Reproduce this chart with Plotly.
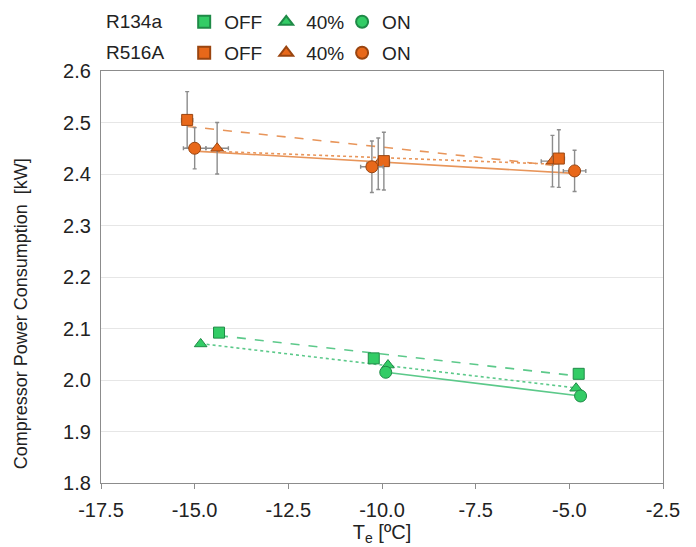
import numpy as np
import plotly.graph_objects as go

# ---- data ----
# R134a (green), no visible error bars
r134a_off_x = [-14.35, -10.22, -4.75]
r134a_off_y = [2.092, 2.042, 2.012]
r134a_40_x = [-14.84, -9.84, -4.82]
r134a_40_y = [2.070, 2.029, 1.984]
r134a_on_x = [-9.90, -4.70]
r134a_on_y = [2.015, 1.969]

# R516A (orange) with error bars
r516a_off_x = [-15.20, -9.95, -5.28]
r516a_off_y = [2.505, 2.425, 2.430]
r516a_off_ey = [0.055, 0.056, 0.056]
r516a_off_ex = [0.15, 0.15, 0.15]
r516a_40_x = [-14.40, -10.10, -5.45]
r516a_40_y = [2.450, 2.420, 2.425]
r516a_40_ey = [0.050, 0.050, 0.050]
r516a_40_ex = [0.30, 0.30, 0.30]
r516a_on_x = [-15.00, -10.27, -4.86]
r516a_on_y = [2.450, 2.414, 2.406]
r516a_on_ey = [0.040, 0.050, 0.040]
r516a_on_ex = [0.30, 0.30, 0.30]

x_ticks = [-17.5, -15.0, -12.5, -10.0, -7.5, -5.0, -2.5]
y_ticks = [1.8, 1.9, 2.0, 2.1, 2.2, 2.3, 2.4, 2.5, 2.6]

GREEN = "#33cc66"
GREEN_EDGE = "#1f8a47"
GREEN_LINE = "#5cc98a"
ORANGE = "#e8681a"
ORANGE_EDGE = "#9a4510"
ORANGE_LINE = "#e8955a"
ERR = "#8c8c8c"

fig = go.Figure()

def trend(xs, ys, color, dash, width=1.6):
    p = np.polyfit(xs, ys, 1)
    xx = np.array([min(xs), max(xs)])
    fig.add_trace(go.Scatter(x=xx, y=np.polyval(p, xx), mode="lines",
                             line=dict(color=color, dash=dash, width=width),
                             showlegend=False, hoverinfo="skip"))

# trendlines
trend(r134a_off_x, r134a_off_y, GREEN_LINE, "dash")
trend(r134a_40_x, r134a_40_y, GREEN_LINE, "dot")
trend(r134a_on_x, r134a_on_y, GREEN_LINE, "solid")
trend(r516a_off_x, r516a_off_y, ORANGE_LINE, "dash")
trend(r516a_40_x, r516a_40_y, ORANGE_LINE, "dot")
trend(r516a_on_x, r516a_on_y, ORANGE_LINE, "solid")

def pts(xs, ys, sym, fill, edge, name, legend, size, ey=None, ex=None):
    kw = {}
    if ey is not None:
        kw["error_y"] = dict(type="data", array=ey, color=ERR, thickness=1.4, width=2)
    if ex is not None:
        kw["error_x"] = dict(type="data", array=ex, color=ERR, thickness=1.4, width=2)
    fig.add_trace(go.Scatter(x=xs, y=ys, mode="markers", name=name, legend=legend,
                             marker=dict(symbol=sym, size=size, color=fill,
                                         line=dict(color=edge, width=1)),
                             **kw))

pts(r134a_off_x, r134a_off_y, "square", GREEN, GREEN_EDGE, "OFF", "legend", 11)
pts(r134a_40_x, r134a_40_y, "triangle-up", GREEN, GREEN_EDGE, "40%", "legend2", 11)
pts(r134a_on_x, r134a_on_y, "circle", GREEN, GREEN_EDGE, "ON", "legend3", 12)
pts(r516a_40_x, r516a_40_y, "triangle-up", ORANGE, ORANGE_EDGE, "40%", "legend5", 11,
    r516a_40_ey, r516a_40_ex)
pts(r516a_off_x, r516a_off_y, "square", ORANGE, ORANGE_EDGE, "OFF", "legend4", 11,
    r516a_off_ey, r516a_off_ex)
pts(r516a_on_x, r516a_on_y, "circle", ORANGE, ORANGE_EDGE, "ON", "legend6", 12,
    r516a_on_ey, r516a_on_ex)

FONT = "Liberation Sans, Arial, sans-serif"
legend_common = dict(orientation="h", xanchor="left", yanchor="middle",
                     font=dict(family=FONT, size=19, color="#222"),
                     itemsizing="constant", itemwidth=30, bgcolor="rgba(0,0,0,0)")

col_x = [0.148, 0.294, 0.429]
row_y = [1.119, 1.044]

legends = {}
names = ["legend", "legend2", "legend3", "legend4", "legend5", "legend6"]
for i, nm in enumerate(names):
    legends[nm] = dict(x=col_x[i % 3], y=row_y[i // 3], **legend_common)

fig.update_layout(
    width=696, height=547,
    margin=dict(l=93, r=41, t=63, b=72, autoexpand=False),
    paper_bgcolor="white", plot_bgcolor="white",
    font=dict(family=FONT, size=20, color="#222"),
    **legends,
    xaxis=dict(range=[-17.5, -2.5], tickvals=x_ticks,
               ticktext=[f"{v:.1f}" for v in x_ticks],
               showgrid=False, zeroline=False,
               showline=True, linecolor="#8c8c8c", linewidth=1.2, mirror=True,
               ticks="outside", ticklen=5, tickcolor="#8c8c8c",
               tickfont=dict(size=20), ticklabelstandoff=4,
               title=dict(text="T<sub>e</sub> [ºC]", font=dict(size=20), standoff=4)),
    yaxis=dict(range=[1.8, 2.6], tickvals=y_ticks,
               ticktext=[f"{v:.1f}" for v in y_ticks],
               showgrid=True, gridcolor="#e6e6e6", gridwidth=1, zeroline=False,
               showline=True, linecolor="#8c8c8c", linewidth=1.2, mirror=True,
               tickfont=dict(size=20), ticklabelstandoff=5),
    annotations=[
        dict(text="R134a", xref="paper", yref="paper", x=0.006, y=row_y[0],
             xanchor="left", yanchor="middle", showarrow=False,
             font=dict(size=19, color="#222")),
        dict(text="R516A", xref="paper", yref="paper", x=0.006, y=row_y[1],
             xanchor="left", yanchor="middle", showarrow=False,
             font=dict(size=19, color="#222")),
        dict(text="Compressor Power Consumption  [kW]", xref="paper", yref="paper",
             x=-0.142, y=0.41, textangle=-90, xanchor="center", yanchor="middle",
             showarrow=False, font=dict(size=18, color="#222")),
    ],
)

fig.write_html("out.html")
